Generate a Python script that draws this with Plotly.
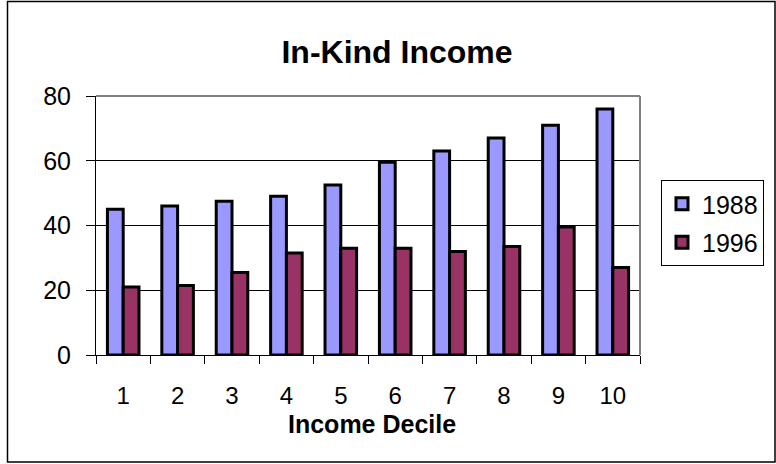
import plotly.graph_objects as go

# In-kind income by income decile, 1988 vs 1996
deciles = ["1", "2", "3", "4", "5", "6", "7", "8", "9", "10"]
income_1988 = [45, 46, 47.5, 49, 52.5, 59.5, 63, 67, 71, 76]
income_1996 = [21, 21.5, 25.5, 31.5, 33, 33, 32, 33.5, 39.5, 27]
y_ticks = [0, 20, 40, 60, 80]

W, H = 776, 464
ML, MR, MT, MB = 96, 136, 96, 109
PW, PH = W - ML - MR, H - MT - MB

def px_x(p):
    return (p - ML) / PW

def px_y(p):
    return (H - MB - p) / PH

FONT = "Liberation Sans, Arial, sans-serif"

fig = go.Figure()
fig.add_trace(go.Bar(
    x=deciles, y=income_1988, name="1988", legendgroup="a",
    marker=dict(color="#9999FF", line=dict(color="black", width=3)),
))
fig.add_trace(go.Bar(
    x=deciles, y=income_1996, name="1996", legendgroup="b",
    marker=dict(color="#993366", line=dict(color="black", width=3)),
))

fig.update_layout(
    width=W, height=H,
    margin=dict(l=ML, r=MR, t=MT, b=MB, autoexpand=False),
    paper_bgcolor="white", plot_bgcolor="white",
    font=dict(family=FONT, size=25, color="black"),
    barmode="group", bargap=0.42, bargroupgap=0,
    title=dict(text="<b>In-Kind Income</b>", x=px_x(397), xref="paper", xanchor="center",
               y=(H - 52) / H, yanchor="middle",
               font=dict(size=32)),
    legend=dict(x=px_x(661), y=px_y(180), xanchor="left", yanchor="top",
                bordercolor="black", borderwidth=1, bgcolor="white",
                traceorder="grouped", tracegroupgap=3,
                font=dict(size=25)),
    xaxis=dict(
        type="category", tickson="boundaries", ticks="outside", ticklen=8,
        tickcolor="black", tickwidth=1, showline=True, linecolor="black",
        linewidth=1, showgrid=False, ticklabelstandoff=19,
        tickfont=dict(size=24),
    ),
    yaxis=dict(
        range=[0, 80], tickvals=y_ticks, ticks="outside", ticklen=9,
        tickcolor="black", tickwidth=1, showline=True, linecolor="black",
        linewidth=1, showgrid=True, gridcolor="black", gridwidth=1,
        zeroline=False, ticklabelstandoff=10, tickfont=dict(size=25),
    ),
    annotations=[
        dict(text="<b>Income Decile</b>", xref="paper", yref="paper",
             x=px_x(372), y=px_y(424), xanchor="center", yanchor="middle",
             showarrow=False, font=dict(size=25)),
    ],
    shapes=[
        # top and right edges of the plot area
        dict(type="line", xref="paper", yref="paper", x0=0, x1=1, y0=1, y1=1,
             line=dict(color="#808080", width=2), layer="above"),
        dict(type="line", xref="paper", yref="paper", x0=1, x1=1, y0=0, y1=1,
             line=dict(color="#808080", width=2), layer="above"),
        # chart area frame
        dict(type="rect", xref="paper", yref="paper",
             x0=px_x(7.5), x1=px_x(775), y0=px_y(1.5), y1=px_y(462),
             line=dict(color="black", width=1.5), layer="above"),
    ],
)

fig.write_html("out.html")
